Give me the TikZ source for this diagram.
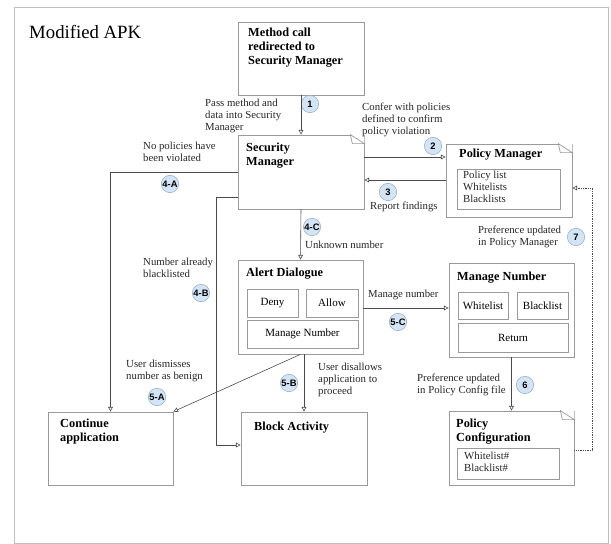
\documentclass[tikz,border=0pt]{standalone}
\usepackage{fontspec}
\setmainfont{Liberation Serif}
\newfontfamily\numfont{Liberation Sans}
\usetikzlibrary{arrows.meta,fit}
\definecolor{boxgray}{HTML}{9A9A9A}
\definecolor{linegray}{HTML}{4A4A4A}
\definecolor{numblue}{HTML}{D3E5F4}
\definecolor{numedge}{HTML}{8FA6BF}
\tikzset{
  box/.style={draw=boxgray, fill=white, inner sep=0pt, line width=0.6pt},
  btn/.style={draw=boxgray, inner sep=0pt, line width=0.5pt},
  ttl/.style={anchor=north west, inner sep=0pt, align=left,
    font=\fontsize{10.5}{12}\selectfont\bfseries},
  lbl/.style={anchor=north west, inner sep=0pt, align=left, text=black!85,
    font=\fontsize{9.2}{10.2}\selectfont},
  num/.style={circle, draw=numedge, fill=numblue, inner sep=0.2pt, minimum size=0.52cm,
    font=\numfont\fontsize{8}{8}\selectfont\bfseries},
  arr/.style={draw=linegray, line width=0.5pt, -{Triangle[open, length=4pt, width=4pt]}},
}
% folded corner of a note box
\newcommand{\dogear}[1]{%
  \fill[white] ([shift={(-14,0)}]#1.north east) -- (#1.north east) -- ([shift={(0,9)}]#1.north east) -- cycle;
  \draw[boxgray, line width=0.6pt] ([shift={(-14,0)}]#1.north east) -- ([shift={(0,9)}]#1.north east)
    -- ([shift={(-12,9)}]#1.north east) -- cycle;
}
\begin{document}
\begin{tikzpicture}[x=0.03cm, y=-0.03cm]
\useasboundingbox (0,0) rectangle (611,544);
\draw[black!25] (14,7) rectangle (608,543);
\node[anchor=north west, inner sep=0pt, font=\fontsize{16}{18}\selectfont] (apk) at (29,25) {Modified APK};

% boxes
\node[box, fit={(238,22) (364,95)}] (call) {};
\node[box, fit={(238,135) (364,209)}] (secm) {};
\node[box, fit={(446,144) (572,217)}] (polm) {};
\node[box, fit={(238,260) (363,354)}] (alert) {};
\node[box, fit={(449,263) (574,357)}] (mnum) {};
\node[box, fit={(449,411) (574,485)}] (pconf) {};
\node[box, fit={(48,412) (173,485)}] (cont) {};
\node[box, fit={(241,412) (367,485)}] (block) {};
\dogear{secm}
\dogear{polm}
\dogear{pconf}

% titles
\node[ttl] (callt) at (248,28) {Method call\\redirected to\\Security Manager};
\node[ttl] (secmt) at (246,143) {Security\\Manager};
\node[ttl] (polmt) at (459,149) {Policy Manager};
\node[ttl] (alertt) at (246,268) {Alert Dialogue};
\node[ttl] (mnumt) at (457,272) {Manage Number};
\node[ttl] (pconft) at (456,419) {Policy\\Configuration};
\node[ttl] (contt) at (60,419) {Continue\\application};
\node[ttl] (blockt) at (254,422) {Block Activity};

% inner boxes
\node[btn, fit={(457,169) (560,209)}] (plist) {};
\node[lbl] (plistt) at (463,171) {Policy list\\Whitelists\\Blacklists};
\node[btn, fit={(457,448) (559,479)}] (pcfg) {};
\node[lbl] (pcfgt) at (464,452) {Whitelist\#\\Blacklist\#};
\node[btn, fit={(247,289) (298,317)}] (deny) {};
\node[font=\fontsize{9.4}{10}\selectfont] at (deny) {Deny};
\node[btn, fit={(306,289) (358,317)}] (allow) {};
\node[font=\fontsize{9.4}{10}\selectfont] at (allow) {Allow};
\node[btn, fit={(247,320) (358,348)}] (mbtn) {};
\node[font=\fontsize{9.4}{10}\selectfont] at (mbtn) {Manage Number};
\node[btn, fit={(458,292) (508,319)}] (wl) {};
\node[font=\fontsize{9.4}{10}\selectfont] at (wl) {Whitelist};
\node[btn, fit={(517,292) (568,319)}] (bl) {};
\node[font=\fontsize{9.4}{10}\selectfont] at (bl) {Blacklist};
\node[btn, fit={(458,323) (568,352)}] (ret) {};
\node[font=\fontsize{9.4}{10}\selectfont] at (ret) {Return};

% labels
\node[lbl] (passl) at (205,99) {Pass method and\\data into Security\\Manager};
\node[lbl] (conferl) at (362,103) {Confer with policies\\defined to confirm\\policy violation};
\node[lbl] (reportl) at (370,202) {Report findings};
\node[lbl] (nopoll) at (143,142) {No policies have\\been violated};
\node[lbl] (unknl) at (305,241) {Unknown number};
\node[lbl] (numbll) at (143,258) {Number already\\blacklisted};
\node[lbl] (managel) at (368,290) {Manage number};
\node[lbl] (prefpml) at (478,226) {Preference updated\\in Policy Manager};
\node[lbl] (dismissl) at (126,360) {User dismisses\\number as benign};
\node[lbl] (disallowl) at (318,363) {User disallows\\application to\\proceed};
\node[lbl] (prefpcl) at (417,374) {Preference updated\\in Policy Config file};

% step numbers
\node[num] (n1) at (310,104) {1};
\node[num] (n2) at (433,146) {2};
\node[num] (n3) at (388,192) {3};
\node[num] (n4a) at (170,184) {4-A};
\node[num] (n4b) at (201,293) {4-B};
\node[num] (n4c) at (312,227) {4-C};
\node[num] (n5a) at (157,397) {5-A};
\node[num] (n5b) at (289,383) {5-B};
\node[num] (n5c) at (398,322) {5-C};
\node[num] (n6) at (525,385) {6};
\node[num] (n7) at (576,237) {7};

% arrows
\draw[arr] (call.south) -- (secm.north);
\draw[arr] (secm.east |- 0,157) -- (polm.west |- 0,157);
\draw[arr] (polm.west |- 0,180) -- (secm.east |- 0,180);
\draw[arr] (secm.west |- 0,172) -| (cont.north);
\draw[arr] (secm.west |- 0,197) -- (216,197) |- (block.west |- 0,445);
\draw[arr] (secm.south) -- (alert.north);
\draw[arr] (alert.south -| block.north) -- (block.north);
\draw[arr] (alert.south) -- (cont.north east);
\draw[arr] (alert.east |- 0,308) -- (mnum.west |- 0,308);
\draw[arr] (mnum.south) -- (pconf.north);
\draw[arr, densely dotted] (pconf.east |- 0,450) -- (592,450) |- (polm.east |- 0,188);
\end{tikzpicture}
\end{document}
